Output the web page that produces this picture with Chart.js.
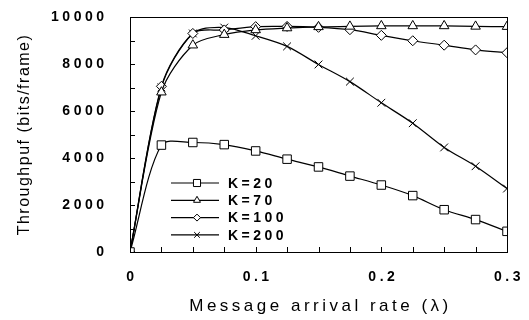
<!DOCTYPE html>
<html>
<head>
<meta charset="utf-8">
<script src="https://cdn.jsdelivr.net/npm/chart.js"></script>
<style>
  html, body { margin: 0; padding: 0; background: #fff; }
  canvas { display: block; }
</style>
</head>
<body>
<canvas id="chart" width="529" height="320"></canvas>
<script>
// message arrival rate (x axis)
const rates = [0, 0.025, 0.05, 0.075, 0.1, 0.125, 0.15, 0.175, 0.2, 0.225, 0.25, 0.275, 0.3];

const seriesNames = ['K=20', 'K=70', 'K=100', 'K=200'];
// throughput, bits/frame
const k20  = [0, 4550, 4660, 4570, 4300, 3950, 3620, 3230, 2850, 2400, 1800, 1380, 880];
const k70  = [0, 6800, 8800, 9250, 9450, 9530, 9580, 9600, 9620, 9620, 9620, 9600, 9590];
const k100 = [0, 7050, 9300, 9450, 9590, 9600, 9560, 9460, 9220, 8990, 8800, 8600, 8480];
const k200 = [0, 7000, 9300, 9550, 9200, 8750, 7980, 7250, 6350, 5480, 4450, 3650, 2700];

const xTickLabels = [0, 0.1, 0.2, 0.3];
const yTickLabels = [0, 2000, 4000, 6000, 8000, 10000];
const xTitle = 'Message arrival rate (λ)';
const yTitle = 'Throughpuf (bits/frame)';

const series = [k20, k70, k100, k200];
const markers = ['rect', 'triangle', 'rectRot', 'crossRot'];
const markerSize = [6, 5.5, 5, 5.5];
const legendSize = [5, 4, 3.5, 4];

const FONT = '"Liberation Sans", Arial, sans-serif';
Chart.defaults.font.family = FONT;
Chart.defaults.color = '#000';

const near = (list, v) => list.some(l => Math.abs(l - v) < 1e-9);
const xLabel = v => near(xTickLabels, v) ? (v === 0 ? '0' : v.toFixed(1)) : '';
const yLabel = v => near(yTickLabels, v) ? String(v) : '';

// box round the plot, inward tick marks, spaced tick labels
const plotBox = {
  id: 'plotBox',
  afterDraw(chart) {
    const ctx = chart.ctx;
    const a = chart.chartArea;
    const sx = chart.scales.x;
    const sy = chart.scales.y;
    ctx.save();
    ctx.strokeStyle = '#000';
    ctx.lineWidth = 1;
    ctx.strokeRect(a.left + 0.5, a.top + 0.5, a.right - a.left, a.bottom - a.top);
    ctx.beginPath();
    sx.ticks.forEach(t => {
      const px = Math.round(sx.getPixelForValue(t.value)) + 0.5;
      ctx.moveTo(px, a.bottom);
      ctx.lineTo(px, a.bottom - 5);
    });
    sy.ticks.forEach(t => {
      const py = Math.round(sy.getPixelForValue(t.value)) + 0.5;
      ctx.moveTo(a.left, py);
      ctx.lineTo(a.left + 5, py);
    });
    ctx.stroke();

    ctx.fillStyle = '#000';
    ctx.font = 'bold 14px ' + FONT;
    ctx.letterSpacing = '3.5px';
    ctx.textBaseline = 'middle';
    ctx.textAlign = 'center';
    sx.ticks.forEach(t => {
      const s = xLabel(t.value);
      if (s) ctx.fillText(s, sx.getPixelForValue(t.value) + 2, a.bottom + 25);
    });
    ctx.textAlign = 'right';
    sy.ticks.forEach(t => {
      const s = yLabel(t.value);
      if (s) ctx.fillText(s, a.left - 22.5, sy.getPixelForValue(t.value));
    });
    ctx.restore();
  }
};

// axis titles, each with its own letter spacing
const axisTitles = {
  id: 'axisTitles',
  afterDraw(chart) {
    const {ctx, chartArea: a} = chart;
    ctx.save();
    ctx.fillStyle = '#000';
    ctx.textAlign = 'center';
    ctx.textBaseline = 'middle';
    ctx.font = '17px ' + FONT;
    ctx.letterSpacing = '3.5px';
    ctx.fillText(xTitle, (a.left + a.right) / 2 + 2, 306);
    ctx.translate(25, (a.top + a.bottom) / 2);
    ctx.rotate(-Math.PI / 2);
    ctx.font = '16px ' + FONT;
    ctx.letterSpacing = '1.5px';
    ctx.fillText(yTitle, 0, 0);
    ctx.restore();
  }
};

// legend drawn inside the plot, line + marker + label
const insideLegend = {
  id: 'insideLegend',
  afterDraw(chart) {
    const {ctx, chartArea} = chart;
    const x0 = chartArea.left + 41;
    const y0 = chartArea.top + 166;
    const gap = 17.3;
    ctx.save();
    ctx.font = 'bold 14px ' + FONT;
    ctx.letterSpacing = '3.5px';
    ctx.textAlign = 'left';
    ctx.textBaseline = 'middle';
    ctx.strokeStyle = '#000';
    chart.data.datasets.forEach((ds, i) => {
      const y = y0 + i * gap;
      ctx.lineWidth = 1.2;
      ctx.beginPath();
      ctx.moveTo(x0, y);
      ctx.lineTo(x0 + 48, y);
      ctx.stroke();
      ctx.fillStyle = '#fff';
      ctx.lineWidth = 1;
      Chart.helpers.drawPoint(ctx, {pointStyle: ds.pointStyle, radius: legendSize[i], rotation: 0, borderWidth: 1}, x0 + 26, y);
      ctx.fillStyle = '#000';
      ctx.fillText(ds.label, x0 + 57, y + 1);
    });
    ctx.restore();
  }
};

// fixed axis sizes; drop the label overhang padding chart.js adds
const fixSize = (w, h) => s => {
  if (w) s.width = w;
  if (h) s.height = h;
  s.paddingTop = s.paddingBottom = s.paddingLeft = s.paddingRight = 0;
};

new Chart(document.getElementById('chart'), {
  type: 'line',
  data: {
    datasets: seriesNames.map((name, i) => ({
      label: name,
      data: rates.map((r, j) => ({x: r, y: series[i][j]})),
      borderColor: '#000',
      borderWidth: 1.2,
      tension: 0.3,
      fill: false,
      pointStyle: markers[i],
      pointRadius: markerSize[i],
      pointBackgroundColor: '#fff',
      pointBorderColor: '#000',
      pointBorderWidth: 1
    }))
  },
  options: {
    responsive: false,
    animation: false,
    layout: {autoPadding: false, padding: {left: 0, right: 22, top: 17, bottom: 0}},
    plugins: {
      legend: {display: false},
      tooltip: {enabled: false}
    },
    scales: {
      x: {
        type: 'linear',
        min: 0,
        max: 0.3,
        grid: {display: false, drawTicks: false},
        border: {display: false},
        ticks: {stepSize: 0.025, autoSkip: false, display: false},
        afterFit: fixSize(0, 68)
      },
      y: {
        min: 0,
        max: 10000,
        grid: {display: false, drawTicks: false},
        border: {display: false},
        ticks: {stepSize: 1000, display: false},
        afterFit: fixSize(130, 0)
      }
    }
  },
  plugins: [plotBox, insideLegend, axisTitles]
});
</script>
</body>
</html>
